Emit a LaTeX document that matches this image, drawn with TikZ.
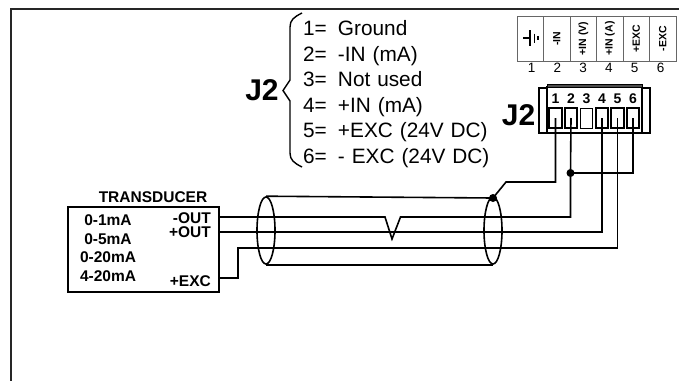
\documentclass[tikz,border=0pt]{standalone}
\usepackage{fontspec}
\usepackage{graphicx}
\usepackage{tikz}
\usetikzlibrary{shapes}
\usetikzlibrary{positioning}
\setmainfont{Liberation Sans}
\newcommand{\pinline}[2]{\makebox[35pt][l]{#1}#2}

\begin{document}
\begin{tikzpicture}[x=1pt, y=-1pt, on grid, node distance=25.6pt,
    wire/.style={line width=1.6pt},
    frameline/.style={line width=2pt, black!85},
    pinlist/.style={inner sep=0pt, text width=230pt, align=left, text height=15pt, text depth=4pt, font=\fontsize{20.8}{24}\selectfont},
    bigname/.style={inner sep=0pt, font=\bfseries\fontsize{30}{32}\selectfont},
    cell/.style={draw=black!60, line width=1pt, minimum width=26.5pt, minimum height=45pt, inner sep=0pt, font=\bfseries\fontsize{10.5}{12}\selectfont},
    cellnum/.style={inner sep=0pt, font=\fontsize{13.5}{15}\selectfont},
    pinnum/.style={inner sep=0pt, font=\bfseries\fontsize{14}{16}\selectfont},
    terminal/.style={draw, line width=2.1pt, minimum width=12.5pt, minimum height=20pt, inner sep=0pt},
    shield/.style={draw, ellipse, line width=1.6pt, minimum width=18pt, minimum height=67pt, inner sep=0pt},
    junction/.style={circle, fill, minimum size=8pt, inner sep=0pt},
    xdtext/.style={inner sep=0pt, font=\bfseries\fontsize{15.5}{17}\selectfont}]
      \useasboundingbox (0,0) rectangle (679,381);

      \coordinate (frame_o) at (11,9);
      \coordinate (frame_r) at (679,9);
      \coordinate (frame_b) at (11,381);
      \draw[frameline] (frame_r) -- (frame_o) -- (frame_b);

      \node[cell] (cell_1) at (530.3,38.5) {};
      \node[cell] (cell_2) [right of=cell_1, node distance=26.5pt] {\rotatebox{90}{-IN}};
      \node[cell] (cell_3) [right of=cell_2, node distance=26.5pt] {\rotatebox{90}{+IN (V)}};
      \node[cell] (cell_4) [right of=cell_3, node distance=26.5pt] {\rotatebox{90}{+IN (A)}};
      \node[cell] (cell_5) [right of=cell_4, node distance=26.5pt] {\rotatebox{90}{+EXC}};
      \node[cell] (cell_6) [right of=cell_5, node distance=26.5pt] {\rotatebox{90}{-EXC}};
      \draw[line width=1.2pt]
        (523,38) -- (530,38)
        (530,30) -- (530,46)
        (534.5,33.5) -- (534.5,42.5)
        (538,36) -- (538,40);

      \node[cellnum] (num_1) at (531.5,68) {1};
      \node[cellnum] (num_2) [right of=num_1, node distance=25.8pt] {2};
      \node[cellnum] (num_3) [right of=num_2, node distance=25.8pt] {3};
      \node[cellnum] (num_4) [right of=num_3, node distance=25.8pt] {4};
      \node[cellnum] (num_5) [right of=num_4, node distance=25.8pt] {5};
      \node[cellnum] (num_6) [right of=num_5, node distance=25.8pt] {6};

      \node[pinlist] (line_1) at (418,30) {\pinline{1=}{Ground}};
      \node[pinlist] (line_2) [below of=line_1] {\pinline{2=}{-IN (mA)}};
      \node[pinlist] (line_3) [below of=line_2] {\pinline{3=}{Not used}};
      \node[pinlist] (line_4) [below of=line_3] {\pinline{4=}{+IN (mA)}};
      \node[pinlist] (line_5) [below of=line_4] {\pinline{5=}{+EXC (24V DC)}};
      \node[pinlist] (line_6) [below of=line_5] {\pinline{6=}{- EXC (24V DC)}};
      \node[bigname] (j2_list) at (262,90) {J2};
      \draw[line width=1.4pt] (302,13) .. controls (294,17) and (290,20) .. (290,27)
        -- (290,80) -- (283,90.5) -- (290,101) -- (290,153)
        .. controls (290,160) and (294,163) .. (302,167);

      \node[draw, line width=1.5pt, minimum width=111pt, minimum height=45pt] (flange) at (594.5,110.5) {};
      \node[draw, fill=white, line width=1.5pt, minimum width=95pt, minimum height=46pt] (conn) at (594.5,110) {};
      \node[draw, fill=black!70, line width=1pt, minimum width=95pt, minimum height=3pt, inner sep=0pt] (conn_cap) at (594.5,85.5) {};
      \node[pinnum] (pin_1) at (555.5,98.5) {1};
      \node[pinnum] (pin_2) [right of=pin_1, node distance=15.5pt] {2};
      \node[pinnum] (pin_3) [right of=pin_2, node distance=15.5pt] {3};
      \node[pinnum] (pin_4) [right of=pin_3, node distance=15.5pt] {4};
      \node[pinnum] (pin_5) [right of=pin_4, node distance=15.5pt] {5};
      \node[pinnum] (pin_6) [right of=pin_5, node distance=15.5pt] {6};
      \node[terminal] (term_1) at (555.5,118) {};
      \node[terminal] (term_2) [right of=term_1, node distance=15.5pt] {};
      \node[terminal, line width=1pt] (term_3) [right of=term_2, node distance=15.5pt] {};
      \node[terminal] (term_4) [right of=term_3, node distance=15.5pt] {};
      \node[terminal] (term_5) [right of=term_4, node distance=15.5pt] {};
      \node[terminal] (term_6) [right of=term_5, node distance=15.5pt] {};
      \node[bigname] (j2_conn) at (518.5,115) {J2};

      \node[draw, line width=1.6pt, minimum width=151pt, minimum height=85pt] (xd) at (143.5,249.5) {};
      \node[xdtext] (xd_title) at (153,197) {TRANSDUCER};
      \node[xdtext] (range_1) at (108,220) {0-1mA};
      \node[xdtext] (range_2) [below of=range_1, node distance=18.8pt] {0-5mA};
      \node[xdtext] (range_3) [below of=range_2, node distance=18.8pt] {0-20mA};
      \node[xdtext] (range_4) [below of=range_3, node distance=18.8pt] {4-20mA};
      \node[xdtext, anchor=east] (out_neg) at (211,218) {-OUT};
      \node[xdtext, anchor=east] (out_pos) at (211,232) {+OUT};
      \node[xdtext, anchor=east] (out_exc) at (211,281) {+EXC};

      \node[shield] (shield_l) at (266,230.5) {};
      \node[shield] (shield_r) at (493,230.5) {};
      \node[junction] (dot_shield) at (493,198) {};
      \node[junction] (dot_pin) at (570.5,173) {};

      \coordinate (xd_neg) at (xd.east |- 0,217);
      \coordinate (xd_pos) at (xd.east |- 0,232);
      \coordinate (xd_exc) at (xd.east |- 0,278);
      \coordinate (bend_exc) at (238,248);
      \coordinate (kink_a) at (385,217);
      \coordinate (kink_b) at (392,239);
      \coordinate (kink_c) at (400.5,217);
      \coordinate (bend_1) at (506,182);

      \draw[wire] (shield_l.north) -- (dot_shield.center);
      \draw[wire] (shield_l.south) -- (shield_r.south);
      \draw[wire] (xd_neg) -- (kink_a) -- (kink_b) -- (kink_c) -- (kink_c -| dot_pin) -- (dot_pin.center);
      \draw[wire] (xd_pos) -- (xd_pos -| term_4) -- (term_4.center);
      \draw[wire] (xd_exc) -- (xd_exc -| bend_exc) -- (bend_exc) -- (bend_exc -| term_5) -- (term_5.center);
      \draw[wire] (term_1.center) -- (term_1.center |- bend_1) -- (bend_1) -- (dot_shield.center);
      \draw[wire] (term_2.center) -- (dot_pin.center);
      \draw[wire] (dot_pin.center) -- (dot_pin -| term_6) -- (term_6.center);
    \end{tikzpicture}
\end{document}
